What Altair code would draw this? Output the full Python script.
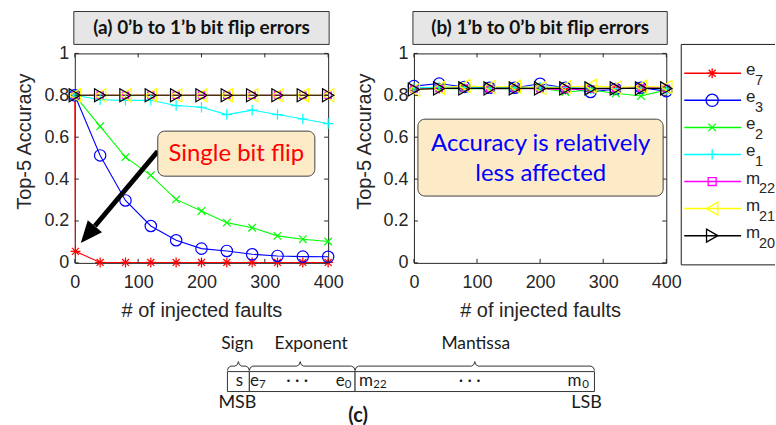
import altair as alt
import pandas as pd

# ---------------- data ----------------
SERIES = ["e7", "e3", "e2", "e1", "m22", "m21", "m20"]
FAULTS = [0, 40, 80, 120, 160, 200, 240, 280, 320, 360, 400]
E7_FAULTS_A = [0, 1, 40, 80, 120, 160, 200, 240, 280, 320, 360, 400]

# (a) 0'b -> 1'b
E7_A = [0.800, 0.055, 0.002, 0.002, 0.002, 0.002, 0.002, 0.002, 0.002, 0.002, 0.002, 0.002]
E3_A = [0.800, 0.513, 0.298, 0.176, 0.108, 0.068, 0.057, 0.041, 0.033, 0.030, 0.029]
E2_A = [0.800, 0.652, 0.505, 0.418, 0.303, 0.248, 0.192, 0.168, 0.129, 0.113, 0.102]
E1_A = [0.800, 0.779, 0.776, 0.776, 0.751, 0.743, 0.708, 0.729, 0.708, 0.687, 0.665]
M22_A = [0.800, 0.801, 0.800, 0.801, 0.800, 0.801, 0.800, 0.800, 0.801, 0.800, 0.800]
M21_A = [0.800, 0.800, 0.801, 0.800, 0.800, 0.800, 0.801, 0.800, 0.800, 0.801, 0.800]
M20_A = [0.800, 0.800, 0.800, 0.800, 0.800, 0.800, 0.800, 0.800, 0.800, 0.800, 0.800]

# (b) 1'b -> 0'b
E7_B = [0.833, 0.833, 0.835, 0.833, 0.833, 0.835, 0.828, 0.830, 0.833, 0.835, 0.833]
E3_B = [0.844, 0.856, 0.840, 0.836, 0.836, 0.855, 0.836, 0.816, 0.830, 0.836, 0.820]
E2_B = [0.833, 0.833, 0.830, 0.833, 0.830, 0.835, 0.816, 0.825, 0.810, 0.797, 0.826]
E1_B = [0.835, 0.840, 0.838, 0.833, 0.836, 0.840, 0.838, 0.830, 0.832, 0.835, 0.830]
M22_B = [0.830, 0.832, 0.835, 0.830, 0.833, 0.830, 0.828, 0.830, 0.832, 0.835, 0.833]
M21_B = [0.825, 0.835, 0.845, 0.840, 0.842, 0.835, 0.840, 0.845, 0.838, 0.842, 0.840]
M20_B = [0.828, 0.833, 0.833, 0.833, 0.833, 0.833, 0.833, 0.833, 0.833, 0.833, 0.833]

X_TICKS = [0, 100, 200, 300, 400]
Y_TICKS = [0, 0.2, 0.4, 0.6, 0.8, 1.0]

LEGEND_BASE = ["e", "e", "e", "e", "m", "m", "m"]
LEGEND_SUB = ["7", "3", "2", "1", "22", "21", "20"]

# bit-layout diagram (c)
FIELD_NAMES = ["Sign", "Exponent", "Mantissa"]
BIT_TEXT = ["s", "e", "· · ·", "e", "m", "· · ·", "m"]
BIT_SUB = ["7", "0", "22", "0"]

# ---------------- styles ----------------
COLORS = ["#ff0000", "#0000ff", "#00ff00", "#00ffff", "#ff00ff", "#ffff00", "#000000"]
STAR = "M-1,0L1,0M0,-1L0,1M-0.7,-0.7L0.7,0.7M-0.7,0.7L0.7,-0.7"
XMARK = "M-0.8,-0.8L0.8,0.8M-0.8,0.8L0.8,-0.8"
PLUS = "M-1,0L1,0M0,-1L0,1"
SHAPES = [STAR, "circle", XMARK, PLUS, "square", "triangle-left", "triangle-right"]
SIZES = [100, 130, 90, 110, 40, 170, 170]
LEG_SIZES = [100, 150, 90, 110, 64, 170, 170]
FRAME = "#262626"
AX_FONT = "Liberation Sans"
CAL_FONT = "Lato"
W_A, W_B, H = 254, 253, 210


def long_df(xs_list, ys_list):
    rows = []
    for s, xs, ys in zip(SERIES, xs_list, ys_list):
        for x, y in zip(xs, ys):
            rows.append({"series": s, "faults": x, "acc": y})
    return pd.DataFrame(rows)


df_a = long_df([E7_FAULTS_A] + [FAULTS] * 6, [E7_A, E3_A, E2_A, E1_A, M22_A, M21_A, M20_A])
df_b = long_df([FAULTS] * 7, [E7_B, E3_B, E2_B, E1_B, M22_B, M21_B, M20_B])

color_enc = alt.Color("series:N", scale=alt.Scale(domain=SERIES, range=COLORS), legend=None)


def x_enc(field="faults"):
    return alt.X(f"{field}:Q", scale=alt.Scale(domain=[0, 400], nice=False, zero=False),
                 axis=alt.Axis(values=X_TICKS, title="# of injected faults", labelFlush=False,
                               labelPadding=11, titleY=54, titleBaseline="alphabetic",
                               titleAlign="center"))


def y_enc(field="acc"):
    return alt.Y(f"{field}:Q", scale=alt.Scale(domain=[0, 1], nice=False, zero=False),
                 axis=alt.Axis(values=Y_TICKS, format="~g", title="Top-5 Accuracy",
                               labelPadding=6, titleX=-50, titleY=88, titleAngle=270,
                               titleAlign="center", titleBaseline="middle"))


def data_part(df, W, title_text, extra):
    lines = alt.Chart(df).mark_line(strokeWidth=1.1).encode(
        x=x_enc(), y=y_enc(), color=color_enc, detail="series:N")
    pts = [
        alt.Chart(df).transform_filter(f"datum.series == '{s}'").mark_point(
            filled=False, opacity=1, strokeWidth=1.2, shape=shp, size=sz).encode(
            x=x_enc(), y=y_enc(), color=color_enc)
        for s, shp, sz in zip(SERIES, SHAPES, SIZES)
    ]
    xt = pd.DataFrame({"faults": X_TICKS})
    yt = pd.DataFrame({"acc": Y_TICKS})
    tb = alt.Chart(xt).mark_rule(color=FRAME).encode(x=x_enc(), y=alt.value(H), y2=alt.value(H - 4))
    tt = alt.Chart(xt).mark_rule(color=FRAME).encode(x=x_enc(), y=alt.value(0), y2=alt.value(4))
    tl = alt.Chart(yt).mark_rule(color=FRAME).encode(y=y_enc(), x=alt.value(0), x2=alt.value(4))
    tr = alt.Chart(yt).mark_rule(color=FRAME).encode(y=y_enc(), x=alt.value(W), x2=alt.value(W - 4))
    tdf = pd.DataFrame({"label": [title_text]})
    tbox = alt.Chart(tdf).mark_rect(fill="#e6e6e6", stroke="#333333", strokeWidth=1).encode(
        x=alt.value(-1), x2=alt.value(W + 1), y=alt.value(-42), y2=alt.value(-9))
    ttxt = alt.Chart(tdf).mark_text(font=CAL_FONT, fontWeight="bold", fontSize=19, color="#111111",
                                    baseline="middle", align="center").encode(
        x=alt.value(W / 2), y=alt.value(-25.5), text="label:N")
    return alt.layer(lines, *pts, tb, tt, tl, tr, tbox, ttxt, *extra)


# ----- annotation (a) -----
ann_a_box = pd.DataFrame({"faults": [131], "faults2": [379], "acc": [0.629], "acc2": [0.414]})
ann_a_txt = pd.DataFrame({"faults": [255], "acc": [0.519], "label": ["Single bit flip"]})
arrow_shaft = pd.DataFrame({"faults": [131, 31.7], "acc": [0.533, 0.176], "i": [0, 1]})
arrow_head = pd.DataFrame({"faults": [20.6], "acc": [0.135]})
HEAD = "M0,-1L0.85,1L-0.85,1Z"

anchor = alt.Chart(pd.DataFrame({"a": [0]})).mark_rect(fill="white", strokeWidth=0).encode(
    x=alt.value(-74), x2=alt.value(-72), y=alt.value(-52), y2=alt.value(-50))

extra_a = [
    alt.Chart(arrow_shaft).mark_line(color="black", strokeWidth=5, strokeCap="butt").encode(
        x=x_enc(), y=y_enc(), order="i:Q"),
    alt.Chart(arrow_head).mark_point(shape=HEAD, filled=True, size=484, angle=220, color="black",
                                     opacity=1, strokeWidth=0).encode(x=x_enc(), y=y_enc()),
    alt.Chart(ann_a_box).mark_rect(fill="#fdebc8", stroke="#404040", strokeWidth=1, cornerRadius=7).encode(
        x=x_enc(), x2="faults2:Q", y=y_enc(), y2="acc2:Q"),
    alt.Chart(ann_a_txt).mark_text(font=CAL_FONT, fontSize=24, color="#ff0000", baseline="middle").encode(
        x=x_enc(), y=y_enc(), text="label:N"),
    anchor,
]

# ----- annotation (b) -----
ann_b_box = pd.DataFrame({"faults": [6.3], "faults2": [395], "acc": [0.686], "acc2": [0.319]})
ann_b_txt = pd.DataFrame({"faults": [201, 201], "acc": [0.567, 0.424],
                          "label": ["Accuracy is relatively", "less affected"]})
extra_b = [
    alt.Chart(ann_b_box).mark_rect(fill="#fdebc8", stroke="#404040", strokeWidth=1, cornerRadius=7).encode(
        x=x_enc(), x2="faults2:Q", y=y_enc(), y2="acc2:Q"),
    alt.Chart(ann_b_txt).mark_text(font=CAL_FONT, fontSize=24, color="#0000ff", baseline="middle").encode(
        x=x_enc(), y=y_enc(), text="label:N"),
]

part_a = data_part(df_a, W_A, "(a) 0\u2019b to 1\u2019b bit flip errors", extra_a)
part_b = data_part(df_b, W_B, "(b) 1\u2019b to 0\u2019b bit flip errors", extra_b)

# ----- diagram (c) drawn below panel (a), own scales -----
DX = alt.Scale(domain=[-153, W_A - 153], nice=False, zero=False)
DY = alt.Scale(domain=[-319, H - 319], nice=False, zero=False, reverse=True)
FIELD_START = [0, 22, 128]
FIELD_END = [22, 128, 368]
FIELD_LABEL_U = [10, 84, 249]
BRACE_PEAK = [11, 73, 248]

fields = pd.DataFrame({"name": FIELD_NAMES, "u": FIELD_START, "u2": FIELD_END,
                       "v": [0] * 3, "v2": [20] * 3, "lu": FIELD_LABEL_U, "lv": [-28] * 3})

brace_rows = []
for name, a, b, m in zip(FIELD_NAMES, FIELD_START, FIELD_END, BRACE_PEAK):
    pts = [(a, -1), (a + 1, -4), (a + 3.5, -5.5), (m - 3.5, -5.5), (m - 1, -7), (m, -10),
           (m + 1, -7), (m + 3.5, -5.5), (b - 3.5, -5.5), (b - 1, -4), (b, -1)]
    for i, (u, v) in enumerate(pts):
        brace_rows.append({"name": name, "i": i, "u": u, "v": v})
braces = pd.DataFrame(brace_rows)

bit_txt = pd.DataFrame({"label": BIT_TEXT, "u": [12, 27, 70, 113, 139, 243, 348], "v": [10] * 7})
bit_sub = pd.DataFrame({"label": BIT_SUB, "u": [35, 121, 153, 359], "v": [10] * 4})
ends = pd.DataFrame({"label": ["MSB", "LSB", "(c)"], "u": [10, 360, 131], "v": [32, 32, 45],
                     "w": ["normal", "normal", "bold"]})

dgx = lambda f="u": alt.X(f"{f}:Q", scale=DX, axis=None)
dgy = lambda f="v": alt.Y(f"{f}:Q", scale=DY, axis=None)

diagram = alt.layer(
    alt.Chart(fields).mark_rect(fill="white", stroke="#333333", strokeWidth=1).encode(
        x=dgx(), x2="u2:Q", y=dgy(), y2="v2:Q"),
    alt.Chart(braces).mark_line(color="#333333", strokeWidth=1).encode(
        x=dgx(), y=dgy(), detail="name:N", order="i:Q"),
    alt.Chart(fields).mark_text(font=CAL_FONT, fontSize=17.5, color="#1a1a1a", baseline="middle").encode(
        x=dgx("lu"), y=dgy("lv"), text="name:N"),
    alt.Chart(bit_txt).mark_text(font=CAL_FONT, fontSize=17, color="#1a1a1a", baseline="middle", dy=-1).encode(
        x=dgx(), y=dgy(), text="label:N"),
    alt.Chart(bit_sub).mark_text(font=CAL_FONT, fontSize=11.5, color="#1a1a1a", baseline="middle", dy=3).encode(
        x=dgx(), y=dgy(), text="label:N"),
    alt.Chart(ends).transform_filter("datum.w == 'normal'").mark_text(
        font=CAL_FONT, fontSize=18, color="#1a1a1a", baseline="middle").encode(
        x=dgx(), y=dgy(), text="label:N"),
    alt.Chart(ends).transform_filter("datum.w == 'bold'").mark_text(
        font=CAL_FONT, fontSize=20, fontWeight="bold", color="#1a1a1a", baseline="middle").encode(
        x=dgx(), y=dgy(), text="label:N"),
)

# ----- legend drawn to the right of panel (b) -----
leg = pd.DataFrame({"series": SERIES, "base": LEGEND_BASE, "sub": LEGEND_SUB})
ly = alt.Y("series:N", scale=alt.Scale(domain=SERIES, range=[6.3, 196.3], padding=0), axis=None)
one = pd.DataFrame({"a": [0]})
legend_marks = [
    alt.Chart(leg).transform_filter(f"datum.series == '{s}'").mark_point(
        filled=False, opacity=1, strokeWidth=1.3, shape=shp, size=sz).encode(
        x=alt.value(299), y=ly, color=color_enc)
    for s, shp, sz in zip(SERIES, SHAPES, LEG_SIZES)
]
legend = alt.layer(
    alt.Chart(one).mark_rule(color="#1a1a1a").encode(x=alt.value(268), x2=alt.value(362), y=alt.value(-9)),
    alt.Chart(one).mark_rule(color="#1a1a1a").encode(x=alt.value(268), x2=alt.value(362), y=alt.value(212)),
    alt.Chart(one).mark_rule(color="#1a1a1a").encode(x=alt.value(268), y=alt.value(-9), y2=alt.value(212)),
    alt.Chart(leg).mark_rule(strokeWidth=1.5).encode(x=alt.value(271), x2=alt.value(328), y=ly, color=color_enc),
    *legend_marks,
    alt.Chart(leg).mark_text(font=AX_FONT, fontSize=17, color=FRAME, align="left", baseline="middle", dy=-3).encode(
        x=alt.value(333), y=ly, text="base:N"),
    alt.Chart(leg).transform_filter("datum.base == 'e'").mark_text(
        font=AX_FONT, fontSize=14.5, color=FRAME, align="left", baseline="middle", dy=8).encode(
        x=alt.value(342), y=ly, text="sub:N"),
    alt.Chart(leg).transform_filter("datum.base == 'm'").mark_text(
        font=AX_FONT, fontSize=14.5, color=FRAME, align="left", baseline="middle", dy=8).encode(
        x=alt.value(346), y=ly, text="sub:N"),
)

left = alt.layer(part_a, diagram).resolve_scale(x="independent", y="independent").properties(width=W_A, height=H)
right = alt.layer(part_b, legend).resolve_scale(x="independent", y="independent").properties(width=W_B, height=H)

chart = alt.hconcat(left, right, spacing=86, bounds="flush").properties(
    padding=0, background="white"
).configure_axis(
    labelFont=AX_FONT, labelFontSize=18, labelColor=FRAME,
    titleFont=AX_FONT, titleFontSize=20, titleFontWeight="normal", titleColor=FRAME,
    domain=False, ticks=False, grid=False,
).configure_view(stroke=FRAME, strokeWidth=1)

chart.save("out.html", embed_options={"renderer": "svg", "actions": False})
